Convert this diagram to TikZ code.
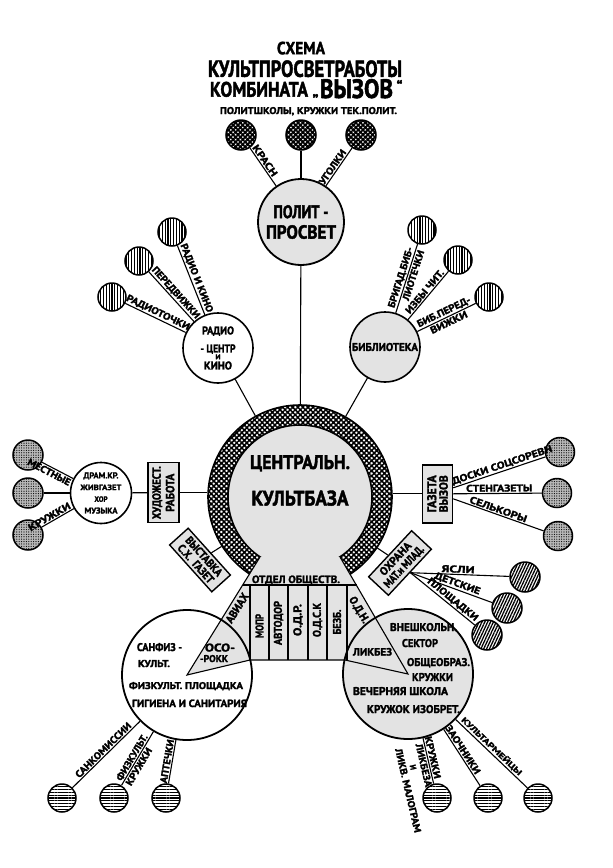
\documentclass[tikz,border=0pt]{standalone}
\usepackage{fontspec}
\setmainfont{PT Sans}[BoldFeatures={FakeBold=2}]
\usepackage{graphicx}
\usetikzlibrary{patterns,patterns.meta,calc}
\newcommand\rsz[3]{\resizebox{#1pt}{#2pt}{#3}}
\definecolor{lg}{gray}{0.89}
\tikzset{
 conn/.style={line width=1.1pt},
 ring/.style={circle, draw, line width=1.6pt, inner sep=0pt, font=\bfseries},
 kid/.style={circle, draw, line width=1.5pt, inner sep=0pt, minimum size=28pt},
 meshd/.style={preaction={fill=white}, pattern={Hatch[angle=45,distance=3.4pt,line width=1.8pt]}},
 meshr/.style={preaction={fill=white}, pattern={Hatch[angle=45,distance=3.6pt,line width=1.5pt]}},
 vstr/.style={preaction={fill=white}, pattern={Lines[angle=90,distance=2.8pt,line width=1.3pt]}},
 hstr/.style={preaction={fill=white}, pattern={Lines[angle=0,distance=2.8pt,line width=1.3pt]}},
 dstr/.style={preaction={fill=white}, pattern={Lines[angle=65,distance=2.6pt,line width=1.3pt]}},
 dotf/.style={preaction={fill=black!28}, pattern={Dots[distance=2.4pt,radius=0.6pt]}},
 lab/.style={font=\bfseries, inner sep=1.2pt},
 txt/.style={font=\bfseries, inner sep=0pt, anchor=base},
 rtx/.style={font=\bfseries, inner sep=0pt},
 box/.style={draw, line width=1.4pt, fill=lg, inner sep=0pt, align=center},
}
\begin{document}
\begin{tikzpicture}[x=1pt,y=-1pt]
\useasboundingbox (0,0) rectangle (613,868);
\fill[white] (0,0) rectangle (613,868);

% ---------- title
\node[txt] (ti1) at (301,54.2) {\rsz{48}{12.5}{СХЕМА}};
\node[txt] (ti2) at (305,76.8) {\rsz{194}{16.5}{КУЛЬТПРОСВЕТРАБОТЫ}};
\node[txt] (ti3) at (259,96.7) {\rsz{98}{15}{КОМБИНАТА}};
\node[txt] (ti4) at (356.5,98) {\rsz{73}{19}{ВЫЗОВ}};
\node[txt, font=\bfseries\fontsize{15}{15}\selectfont] (q1) at (315.5,96) {„};
\node[txt, font=\bfseries\fontsize{15}{15}\selectfont] (q2) at (399.5,92) {“};
\node[txt] (ti5) at (308.5,114) {\rsz{177}{7}{ПОЛИТШКОЛЫ, КРУЖКИ ТЕК.ПОЛИТ.}};

% ---------- central base
\node[ring, minimum size=184pt, meshr] (cen) at (300,497) {};
\node[ring, minimum size=144pt, fill=lg] (cin) at (300,497) {};
\coordinate (sL) at (260,557);
\coordinate (sR) at (340,557);
\coordinate (bL) at (187,675);
\coordinate (bR) at (408,674);
\coordinate (k1) at (250,660);
\coordinate (k2) at (345,660);
\fill[lg] (sL) -- (sR) -- (bR) -- (k2) -- (k1) -- (bL) -- cycle;
\node[ring, minimum size=130pt, line width=1.8pt] (bl) at (bL) {};
\node[ring, minimum size=130pt, line width=1.8pt, fill=lg] (br) at (bR) {};
\draw[conn] (sL) -- (bL) -- (k1) -- (k2) -- (bR) -- (sR);
\draw[conn] (242.5,585) -- (356.6,585);
\foreach \x in {250,269,288,308,327,347} \draw[conn] (\x,585) -- (\x,660);

\node[txt] (cz1) at (300,469) {\rsz{100}{14}{ЦЕНТРАЛЬН.}};
\node[txt] (cz2) at (300,505.5) {\rsz{97}{15}{КУЛЬТБАЗА}};
\node[txt] (otd) at (296,583) {\rsz{88}{7.5}{ОТДЕЛ ОБЩЕСТВ.}};
\node[rtx, rotate=90] (col1) at (259.5,626) {\rsz{24}{8}{МОПР}};
\node[rtx, rotate=90] (col2) at (278.5,623) {\rsz{44}{8}{АВТОДОР}};
\node[rtx, rotate=90] (col3) at (298,620) {\rsz{32}{8}{О.Д.Р.}};
\node[rtx, rotate=90] (col4) at (317.5,620) {\rsz{34}{8}{О.Д.С.К}};
\node[rtx, rotate=90] (col5) at (337,622) {\rsz{25}{8}{БЕЗБ.}};
\node[rtx, rotate=58] (avi) at (237,608) {\rsz{33}{8}{АВИАХ}};
\node[rtx, rotate=-59] (odn) at (359,610) {\rsz{29}{8}{О.Д.Н.}};

\node[txt] (oso1) at (220,651.5) {\rsz{30}{8}{ОСО-}};
\node[txt] (oso2) at (214,662) {\rsz{28}{7}{-РОКК}};
\node[txt] (sf1) at (159.5,651) {\rsz{45}{8}{САНФИЗ -}};
\node[txt] (sf2) at (154,667) {\rsz{32}{7}{КУЛЬТ.}};
\node[txt] (sf3) at (186,689) {\rsz{114}{7}{ФИЗКУЛЬТ. ПЛОЩАДКА}};
\node[txt] (sf4) at (189.5,707) {\rsz{115}{7.5}{ГИГИЕНА И САНИТАРИЯ}};

\node[txt] (vs1) at (423.5,631) {\rsz{67}{8}{ВНЕШКОЛЬН.}};
\node[txt] (vs2) at (420,647) {\rsz{36}{8}{СЕКТОР}};
\node[txt] (vs3) at (438.5,666) {\rsz{63}{8}{ОБЩЕОБРАЗ.}};
\node[txt] (vs4) at (432.5,681) {\rsz{41}{8}{КРУЖКИ}};
\node[txt] (vs5) at (400.5,695) {\rsz{95}{8}{ВЕЧЕРНЯЯ ШКОЛА}};
\node[txt] (vs6) at (413.5,713) {\rsz{93}{8}{КРУЖОК ИЗОБРЕТ.}};
\node[txt] (lik) at (372.5,655.5) {\rsz{39}{7.5}{ЛИКБЕЗ}};

% ---------- main satellites
\node[ring, minimum size=86pt, fill=lg, line width=1.8pt, align=center,
      font={\bfseries\fontsize{10}{20.5}\selectfont\lineskiplimit=-20pt}] (polit) at (301,222)
      {\rsz{55}{13}{ПОЛИТ -}\\\rsz{70}{13.5}{ПРОСВЕТ}};
\node[ring, minimum size=70pt, fill=white, align=center,
      font={\bfseries\fontsize{10}{9}\selectfont\lineskiplimit=-20pt}] (radio) at (218,348)
      {\rsz{32}{8}{РАДИО}\\[9pt]\rsz{35}{8}{- ЦЕНТР}\\[-2pt]\rsz{5}{5}{И}\\[1pt]\rsz{28}{8}{КИНО}};
\node[ring, minimum size=70pt, fill=lg] (lib) at (385,347) {\rsz{66}{8}{БИБЛИОТЕКА}};
\node[ring, minimum size=61pt, fill=white, align=center,
      font={\bfseries\fontsize{8}{11.7}\selectfont\lineskiplimit=-20pt}] (dram) at (101,493)
      {\rsz{35}{6}{ДРАМ.КР.}\\\rsz{41}{5.5}{ЖИВГАЗЕТ}\\\rsz{13}{5.5}{ХОР}\\\rsz{33}{6}{МУЗЫКА}};

\node[box, rotate=90, minimum width=60pt, minimum height=31pt,
      font={\bfseries\fontsize{10}{13.5}\selectfont\lineskiplimit=-20pt}] (hud) at (163.3,492.7)
      {\rsz{53}{8.5}{ХУДОЖЕСТ.}\\\rsz{38}{8.5}{РАБОТА}};
\node[box, rotate=90, minimum width=58pt, minimum height=30pt,
      font={\bfseries\fontsize{10}{11.5}\selectfont\lineskiplimit=-20pt}] (gaz) at (437.5,493.8)
      {\rsz{37}{9}{ГАЗЕТА}\\\rsz{37}{8.5}{ВЫЗОВ}};
\node[box, rotate=-48, minimum width=63pt, minimum height=25pt,
      font={\bfseries\fontsize{10}{11}\selectfont\lineskiplimit=-20pt}] (vys) at (200,560)
      {\rsz{49}{8}{ВЫСТАВКА}\\\rsz{48}{8}{С.Х.\ \ ГАЗЕТ}};
\node[box, rotate=47, minimum width=63pt, minimum height=27pt,
      font={\bfseries\fontsize{10}{11.5}\selectfont\lineskiplimit=-20pt}] (oh) at (400,563)
      {\rsz{41}{8}{ОХРАНА}\\\rsz{53}{8}{МАТ.и МЛАД.}};

% ---------- small circles
\node[kid, minimum size=30pt, meshd] (t1) at (241,135) {};
\node[kid, minimum size=30pt, meshd] (t2) at (301,135) {};
\node[kid, minimum size=30pt, meshd] (t3) at (361,135) {};
\node[kid, vstr] (ra1) at (112,297) {};
\node[kid, vstr] (ra2) at (139,261) {};
\node[kid, vstr] (ra3) at (172,232) {};
\node[kid, vstr] (li1) at (422,230) {};
\node[kid, vstr] (li2) at (458,260) {};
\node[kid, vstr] (li3) at (489,297) {};
\node[kid, minimum size=30pt, dotf] (d1) at (28,455) {};
\node[kid, minimum size=30pt, dotf] (d2) at (28,493) {};
\node[kid, minimum size=30pt, dotf] (d3) at (28,535) {};
\node[kid, minimum size=29pt, dotf] (g1) at (560,452) {};
\node[kid, minimum size=29pt, dotf] (g2) at (557,493) {};
\node[kid, minimum size=29pt, dotf] (g3) at (558,536) {};
\node[kid, minimum size=30pt, dstr] (o1) at (525,577) {};
\node[kid, minimum size=30pt, dstr] (o2) at (507,608) {};
\node[kid, minimum size=30pt, dstr] (o3) at (487,635) {};
\node[kid, hstr] (b1) at (62,798) {};
\node[kid, hstr] (b2) at (114,798) {};
\node[kid, hstr] (b3) at (166,798) {};
\node[kid, hstr] (c1) at (437,798) {};
\node[kid, hstr] (c2) at (488,798) {};
\node[kid, hstr] (c3) at (538,798) {};

% ---------- connectors to the centre
\draw[conn] (polit) -- (cen);
\draw[conn] (radio) -- (cen);
\draw[conn] (lib) -- (cen);
\draw[conn] (hud.south) -- (hud.south -| cen.west);
\draw[conn] (dram) -- (hud.north);
\draw[conn] (gaz.north) -- (gaz.north -| cen.east);
\draw[conn] (vys) -- (cen);
\draw[conn] (oh) -- (cen);

% ---------- polit
\draw[conn] (t1) -- node[lab, sloped, above, pos=0.41] {\rsz{36}{7}{КРАСН}} (polit);
\draw[conn] (t2) -- (polit);
\draw[conn] (polit) -- node[lab, sloped, above, pos=0.42] {\rsz{40}{7}{УГОЛКИ}} (t3);

% ---------- radio
\draw[conn] (ra1) -- node[lab, sloped, above, pos=0.5] {\rsz{69}{7}{РАДИОТОЧКИ}} (radio);
\draw[conn] (ra2) -- node[lab, sloped, above, pos=0.5] {\rsz{66}{7}{ПЕРЕДВИЖКИ}} (radio);
\draw[conn] (ra3) -- node[lab, sloped, above, pos=0.5] {\rsz{73}{7}{РАДИО И КИНО}} (radio);

% ---------- library
\draw[conn] (lib) -- node[lab, sloped, above, pos=0.49] {\rsz{63}{7}{БРИГАД.БИБ-}}
                     node[lab, sloped, below, pos=0.57] {\rsz{52}{7}{ЛИОТЕЧКИ}} (li1);
\draw[conn] (lib) -- node[lab, sloped, above, pos=0.51] {\rsz{54}{7}{ИЗБЫ ЧИТ.}} (li2);
\draw[conn] (lib) -- node[lab, sloped, above, pos=0.5] {\rsz{58}{7}{БИБ.ПЕРЕД-}}
                     node[lab, sloped, below, pos=0.5] {\rsz{40}{7}{ВИЖКИ}} (li3);

% ---------- gazeta
\coordinate (ge1) at ($(gaz.south)+(0,-6)$);
\coordinate (ge2) at (gaz.south);
\coordinate (ge3) at ($(gaz.south)+(0,5)$);
\draw[conn] (ge1) -- node[lab, sloped, above, pos=0.55] {\rsz{105}{7}{ДОСКИ СОЦСОРЕВН}} (g1);
\draw[conn] (ge2) -- node[lab, sloped, above, pos=0.52] {\rsz{66}{7}{СТЕНГАЗЕТЫ}} (g2);
\draw[conn] (ge3) -- node[lab, sloped, above, pos=0.48] {\rsz{60}{7}{СЕЛЬКОРЫ}} (g3);

% ---------- dram
\draw[conn] (d1) -- node[lab, sloped, below, pos=0.31] {\rsz{47}{7}{МЕСТНЫЕ}} (dram);
\draw[conn] (d2) -- (dram);
\draw[conn] (d3) -- node[lab, sloped, above, pos=0.32] {\rsz{47}{7}{КРУЖКИ}} (dram);

% ---------- ohrana
\draw[conn] (oh.south) -- node[lab, sloped, above, pos=0.48] {\rsz{33}{7}{ЯСЛИ}} (o1);
\draw[conn] (oh.south) -- node[lab, sloped, above, pos=0.55] {\rsz{48}{7}{ДЕТСКИЕ}} (o2);
\draw[conn] (oh.south) -- node[lab, sloped, above, pos=0.6] {\rsz{62}{7}{ПЛОЩАДКИ}} (o3);

% ---------- bottom left
\draw[conn] (b1) -- node[lab, sloped, above, pos=0.51] {\rsz{74}{7}{САНКОМИССИИ}} (bl);
\draw[conn] (b2) -- node[lab, sloped, above, pos=0.47] {\rsz{52}{7}{ФИЗКУЛЬТ.}}
                    node[lab, sloped, below, pos=0.4] {\rsz{42}{7}{КРУЖКИ}} (bl);
\draw[conn] (b3) -- node[lab, sloped, above, pos=0.49] {\rsz{44}{7}{АПТЕЧКИ}} (bl);

% ---------- bottom right
\draw[conn] (br) -- node[lab, sloped, above, pos=0.45] {\rsz{43}{7}{КРУЖКИ}}
                    node[lab, sloped, anchor=north west, pos=0.06, align=left,
                         font={\bfseries\fontsize{10}{10.5}\selectfont\lineskiplimit=-20pt}]
                    {\rsz{44}{7}{ЛИКБЕЗА}\\\hspace*{19pt}\rsz{5}{6}{И}\\\rsz{86}{7}{ЛИКВ. МАЛОГРАМ}} (c1);
\draw[conn] (br) -- node[lab, sloped, above, pos=0.41] {\rsz{56}{7}{ЗАОЧНИКИ}} (c2);
\draw[conn] (br) -- node[lab, sloped, above, pos=0.45] {\rsz{80}{7}{КУЛЬТАРМЕЙЦЫ}} (c3);
\end{tikzpicture}
\end{document}
